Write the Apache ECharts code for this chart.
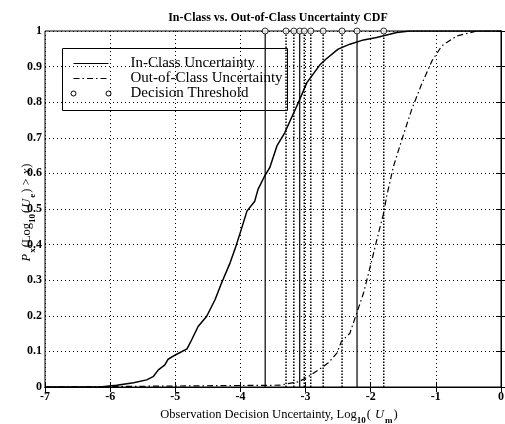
<!DOCTYPE html>
<html>
<head>
<meta charset="utf-8">
<script src="https://cdn.jsdelivr.net/npm/echarts@6/dist/echarts.min.js"></script>
<style>html,body{margin:0;padding:0;background:#fff}#c{width:505px;height:424px}</style>
</head>
<body>
<div id="c"></div>
<script>
// ---- data ----
const titleText = 'In-Class vs. Out-of-Class Uncertainty CDF';
const legendNames = ['In-Class Uncertainty', 'Out-of-Class Uncertainty', 'Decision Threshold'];
const xTickMin = -7, xTickMax = 0, xTickStep = 1;
const yTickMin = 0, yTickMax = 1, yTickStep = 0.1;

const inClassX = [-7, -6.16, -5.9, -5.64, -5.44, -5.34, -5.26, -5.16, -5.11, -5.0, -4.82, -4.75, -4.65, -4.52, -4.39, -4.29, -4.16, -4.07, -4.0, -3.9, -3.78, -3.73, -3.63, -3.55, -3.44, -3.32, -3.11, -2.98, -2.78, -2.68, -2.5, -2.32, -2.11, -1.91, -1.755, -1.6, -1.4, 0];
const inClassY = [0, 0, 0.005, 0.012, 0.02, 0.029, 0.048, 0.062, 0.078, 0.09, 0.107, 0.132, 0.17, 0.198, 0.245, 0.292, 0.348, 0.395, 0.435, 0.494, 0.522, 0.555, 0.592, 0.616, 0.677, 0.714, 0.799, 0.855, 0.905, 0.922, 0.949, 0.963, 0.975, 0.982, 0.989, 0.996, 1.0, 1.0];

const outClassX = [-7, -3.4, -3.1, -2.95, -2.8, -2.65, -2.52, -2.45, -2.32, -2.11, -1.98, -1.88, -1.8, -1.755, -1.65, -1.52, -1.37, -1.22, -1.06, -0.91, -0.68, -0.37, 0];
const outClassY = [0, 0.005, 0.015, 0.03, 0.048, 0.068, 0.095, 0.128, 0.151, 0.264, 0.358, 0.433, 0.489, 0.536, 0.62, 0.696, 0.78, 0.85, 0.916, 0.958, 0.986, 1.0, 1.0];

const thresholdX = [-3.62, -3.30, -3.18, -3.09, -3.02, -2.92, -2.73, -2.44, -2.21, -1.80];
const thresholdLow = 0, thresholdHigh = 1;

// ---- build ----
const zip = (xs, ys) => xs.map((x, i) => [x, ys[i]]);
const solidIdx = [0, 3, 8];
function thresholdLines(solid) {
  const d = [];
  thresholdX.forEach((x, i) => {
    if (solidIdx.includes(i) === solid) { d.push([x, thresholdLow], [x, thresholdHigh], [x, '-']); }
  });
  return d;
}

const serif = 'Liberation Serif, Times New Roman, serif';
const chart = echarts.init(document.getElementById('c'), null, {renderer: 'canvas'});
const gl = {left: 45, top: 31, width: 456, height: 356};
const nameRich = {
  n: {fontFamily: serif, fontSize: 12.5, color: '#000', lineHeight: 16, verticalAlign: 'bottom'},
  i: {fontFamily: serif, fontSize: 12.5, fontStyle: 'italic', color: '#000', lineHeight: 16, verticalAlign: 'bottom', padding: [0, 1, 0, 1]},
  s: {fontFamily: serif, fontSize: 9, fontWeight: 'bold', color: '#000', lineHeight: 16, verticalAlign: 'bottom', padding: [0, 1, -4, 0]}
};

chart.setOption({
  animation: false,
  backgroundColor: '#fff',
  title: {
    text: titleText, left: 273, top: 7, textAlign: 'center',
    textStyle: {fontFamily: serif, fontSize: 12, fontWeight: 'bold', color: '#000'}
  },
  grid: Object.assign({show: true, borderColor: '#000', borderWidth: 1, containLabel: false, outerBoundsMode: 'none'}, gl),
  xAxis: [{
    type: 'value', min: xTickMin, max: xTickMax, interval: xTickStep,
    name: '{n|Observation Decision Uncertainty, Log}{s|10}{n|( }{i|U}{s|m}{n|)}',
    nameLocation: 'middle', nameGap: 18, nameMoveOverlap: false,
    nameTextStyle: {rich: nameRich, padding: [0, 0, 0, 12]},
    axisLine: {lineStyle: {color: '#000', width: 1}},
    axisTick: {inside: true, length: 5, lineStyle: {color: '#000'}},
    axisLabel: {fontFamily: serif, fontSize: 12, fontWeight: 'bold', color: '#000', margin: 4},
    splitLine: {show: true, lineStyle: {color: '#000', type: [1, 3], width: 1}}
  }, {
    type: 'value', position: 'top', min: xTickMin, max: xTickMax, interval: xTickStep,
    axisLine: {show: true, lineStyle: {color: '#000'}},
    axisTick: {inside: true, length: 5, lineStyle: {color: '#000'}},
    axisLabel: {show: false}, splitLine: {show: false}
  }],
  yAxis: [{
    type: 'value', min: yTickMin, max: yTickMax, interval: yTickStep,
    name: '{i|P}{s|x}{n|(Log}{s|10}{n|(}{i|U}{s|e}{n|) > }{i|x}{n|)}',
    nameLocation: 'middle', nameGap: 12, nameRotate: 90, nameMoveOverlap: false,
    nameTextStyle: {rich: nameRich, padding: [0, 8, 0, 0]},
    axisLine: {lineStyle: {color: '#000', width: 1}},
    axisTick: {inside: true, length: 5, lineStyle: {color: '#000'}},
    axisLabel: {fontFamily: serif, fontSize: 12, fontWeight: 'bold', color: '#000', margin: 3},
    splitLine: {show: true, lineStyle: {color: '#000', type: [1, 3], width: 1}}
  }, {
    type: 'value', position: 'right', min: yTickMin, max: yTickMax, interval: yTickStep,
    axisLine: {show: true, lineStyle: {color: '#000'}},
    axisTick: {inside: true, length: 5, lineStyle: {color: '#000'}},
    axisLabel: {show: false}, splitLine: {show: false}
  }],
  series: [
    {name: legendNames[2] + ' lines', type: 'line', data: thresholdLines(true), showSymbol: false, connectNulls: false,
     lineStyle: {color: '#000', width: 1.2}, z: 3},
    {name: legendNames[2] + ' lines dotted', type: 'line', data: thresholdLines(false), showSymbol: false, connectNulls: false,
     lineStyle: {color: '#000', width: 1.5, type: [1.5, 1.5]}, z: 3},
    {name: legendNames[2], type: 'scatter', data: thresholdX.map(x => [x, thresholdHigh]),
     symbol: 'circle', symbolSize: 6, itemStyle: {color: '#fff', borderColor: '#000', borderWidth: 1}, z: 6},
    {name: legendNames[0], type: 'line', data: zip(inClassX, inClassY), showSymbol: false,
     lineStyle: {color: '#000', width: 1.5}, z: 4},
    {name: legendNames[1], type: 'line', data: zip(outClassX, outClassY), showSymbol: false,
     lineStyle: {color: '#000', width: 1.2, type: [6, 3, 1.5, 3]}, z: 4}
  ],
  graphic: [{
    type: 'group', left: 62, top: 48, z: 100,
    children: [
      {type: 'rect', shape: {x: 0, y: 0, width: 225, height: 62}, style: {fill: '#fff', stroke: '#000', lineWidth: 1}},
      {type: 'line', shape: {x1: 11, y1: 15, x2: 46, y2: 15}, style: {stroke: '#000', lineWidth: 1.2}},
      {type: 'line', shape: {x1: 11, y1: 30, x2: 46, y2: 30}, style: {stroke: '#000', lineWidth: 1.2, lineDash: [6, 3, 1.5, 3]}},
      {type: 'circle', shape: {cx: 11, cy: 45, r: 2.5}, style: {fill: '#fff', stroke: '#000', lineWidth: 1}},
      {type: 'circle', shape: {cx: 46, cy: 45, r: 2.5}, style: {fill: '#fff', stroke: '#000', lineWidth: 1}},
      {type: 'text', x: 68, y: 15, style: {text: legendNames[0], font: '15px ' + serif, fill: '#000', verticalAlign: 'middle'}},
      {type: 'text', x: 68, y: 30, style: {text: legendNames[1], font: '15px ' + serif, fill: '#000', verticalAlign: 'middle'}},
      {type: 'text', x: 68, y: 45, style: {text: legendNames[2], font: '15px ' + serif, fill: '#000', verticalAlign: 'middle'}}
    ]
  }]
});
</script>
</body>
</html>
